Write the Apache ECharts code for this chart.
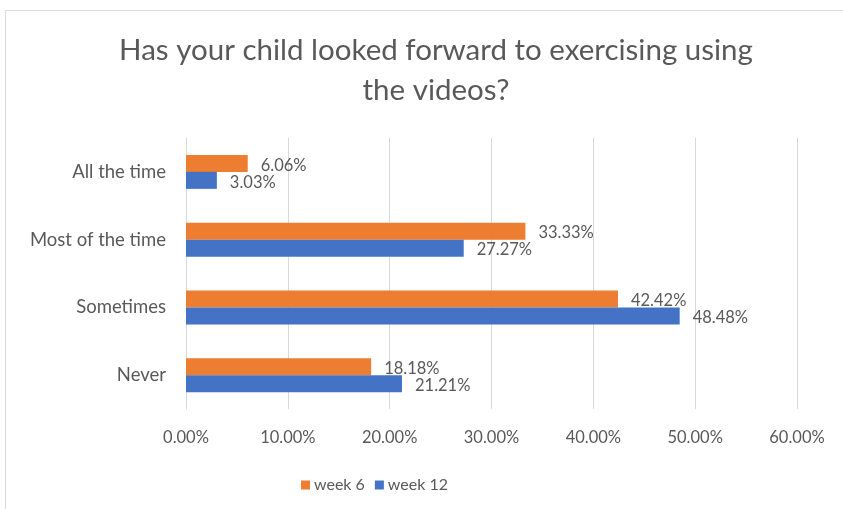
<!DOCTYPE html>
<html>
<head>
<meta charset="utf-8">
<script src="https://cdn.jsdelivr.net/npm/echarts@6/dist/echarts.min.js"></script>
<style>
    * { margin: 0; padding: 0; }
    html, body { background: #fff; }
    #chart { width: 843px; height: 509px; }
</style>
</head>
<body>
<div id="chart"></div>
<script>
    // categories, bottom to top (category axis starts at the bottom)
    var categories = ['Never', 'Sometimes', 'Most of the time', 'All the time'];
    var week6 = [18.18, 42.42, 33.33, 6.06];
    var week12 = [21.21, 48.48, 27.27, 3.03];
    var xTicks = [0, 10, 20, 30, 40, 50, 60];

    var textColor = '#595959';
    var font = 'Lato, "Open Sans", sans-serif';

    var myChart = echarts.init(document.getElementById('chart'));

    function pct(v) {
        return Number(v).toFixed(2) + '%';
    }

    var barLabel = {
        show: true,
        position: 'right',
        distance: 13,
        offset: [0, 2],
        color: textColor,
        fontSize: 16.5,
        fontFamily: font,
        formatter: function (p) { return pct(p.value); }
    };

    var option = {
        backgroundColor: '#fff',
        animation: false,
        graphic: [{
            type: 'rect',
            shape: { x: 5.5, y: 10.5, width: 900, height: 600 },
            style: { fill: 'none', stroke: '#d9d9d9', lineWidth: 1 },
            silent: true
        }],
        title: {
            text: 'Has your child looked forward to exercising using\nthe videos?',
            left: 431,
            textAlign: 'center',
            top: 25,
            textStyle: {
                color: textColor,
                fontSize: 29.5,
                fontWeight: 'normal',
                fontFamily: font,
                lineHeight: 40
            }
        },
        legend: {
            top: 472,
            left: 296,
            itemWidth: 9,
            itemHeight: 9,
            itemGap: 10,
            icon: 'rect',
            textStyle: { color: textColor, fontSize: 16, fontFamily: font, padding: [0, 0, 0, -1] },
            data: ['week 6', 'week 12']
        },
        grid: {
            left: 186,
            right: 46,
            top: 138,
            bottom: 100
        },
        xAxis: {
            type: 'value',
            min: xTicks[0],
            max: xTicks[xTicks.length - 1],
            interval: 10,
            axisLine: { show: false },
            axisTick: { show: false },
            splitLine: { lineStyle: { color: '#d9d9d9', width: 1 } },
            axisLabel: {
                color: textColor,
                fontSize: 16.5,
                fontFamily: font,
                margin: 20,
                formatter: pct
            }
        },
        yAxis: {
            type: 'category',
            data: categories,
            axisLine: { lineStyle: { color: '#d9d9d9' } },
            axisTick: { show: false },
            axisLabel: {
                color: textColor,
                fontSize: 18.5,
                fontFamily: font,
                margin: 20
            }
        },
        series: [{
            name: 'week 6',
            type: 'bar',
            data: week6,
            barWidth: 17,
            barGap: '0%',
            itemStyle: { color: '#ed7d31' },
            label: barLabel
        }, {
            name: 'week 12',
            type: 'bar',
            data: week12,
            barWidth: 17,
            barGap: '0%',
            itemStyle: { color: '#4472c4' },
            label: barLabel
        }]
    };

    myChart.setOption(option);
</script>
</body>
</html>
